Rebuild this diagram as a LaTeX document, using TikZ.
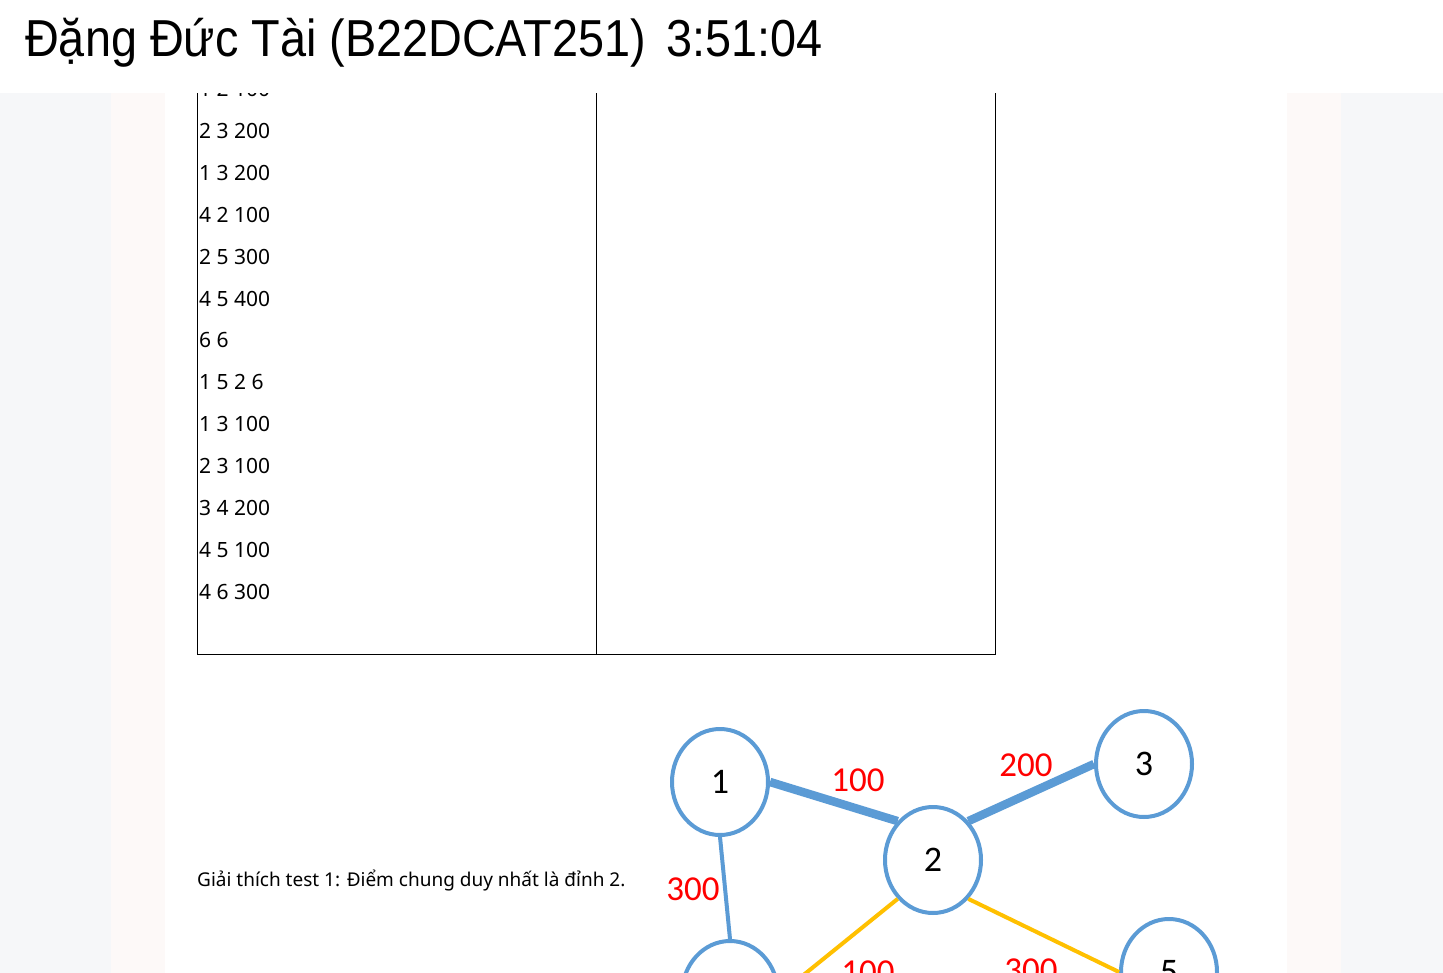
\documentclass[tikz,border=0pt]{standalone}
\usepackage{graphicx}
\usepackage{fontspec}
\setmainfont{Noto Sans}
\newfontfamily\headfont{Liberation Sans}
\newfontfamily\graphfont{Carlito}
\usetikzlibrary{shapes.geometric}
\definecolor{sidegray}{RGB}{246,247,249}
\definecolor{sidepink}{RGB}{253,249,248}
\definecolor{vertexblue}{RGB}{91,155,213}
\definecolor{edgeyellow}{RGB}{255,192,0}
\definecolor{weightred}{RGB}{255,0,0}

\begin{document}
\begin{tikzpicture}[
  x=1pt,y=-1pt,
  rowtext/.style={anchor=west,inner sep=0pt,font=\fontsize{21}{25}\selectfont},
  notetext/.style={anchor=west,inner sep=0pt,font=\fontsize{19}{23}\selectfont},
  vertex/.style={ellipse,draw=vertexblue,line width=4pt,fill=white,
    minimum width=96pt,minimum height=106pt,inner sep=0pt,
    font=\graphfont\fontsize{36}{40}\selectfont},
  weight/.style={inner sep=0pt,text=weightred,font=\graphfont\fontsize{35}{40}\selectfont},
  heavyedge/.style={draw=vertexblue,line width=8.5pt},
  lightedge/.style={draw=vertexblue,line width=4pt},
  treeedge/.style={draw=edgeyellow,line width=4pt}
]
\useasboundingbox (0,0) rectangle (1443,973);
\clip (0,0) rectangle (1443,973);

% Page background with the two side margins.
\fill[sidegray] (0,0) rectangle (1443,973);
\fill[sidepink] (111,93) rectangle (1341,973);
\fill[white] (165,93) rectangle (1287,973);

% Input table; its first rows are scrolled under the header.
\draw[line width=1pt] (197,60) -- (197,654) -- (995,654) -- (995,60);
\draw[line width=1pt] (596,60) -- (596,654);
\foreach \row [count=\i from 0] in {1 2 100,2 3 200,1 3 200,4 2 100,2 5 300,4 5 400,
    6 6,1 5 2 6,1 3 100,2 3 100,3 4 200,4 5 100,4 6 300}
  \node[rowtext] (row\i) at (199,89+41.9*\i) {\row};

\node[notetext] (note) at (197,880) {Giải thích test 1: Điểm chung duy nhất là đỉnh 2.};

% Graph of test 1.
\node[vertex] (v1) at (720,782) {1};
\node[vertex] (v2) at (933,860) {2};
\node[vertex] (v3) at (1144,764) {3};
\node[vertex] (v4) at (730,994) {};
\node[vertex] (v5) at (1169,972) {5};

\draw[heavyedge] (v1.east) -- (v2.north west);
\draw[heavyedge] (v2.north east) -- (v3.west);
\draw[lightedge] (v1.south) -- (v4.north);
\draw[treeedge] (v2.south west) -- (v4.east);
\draw[treeedge] (v2.south east) -- (v5.west);

\node[weight] (w12) at (858,780) {100};
\node[weight] (w23) at (1026,765) {200};
\node[weight] (w14) at (693,889) {300};
\node[weight] (w24) at (868,972) {100};
\node[weight] (w25) at (1031,970) {300};

% Header band on top of everything.
\fill[white] (0,0) rectangle (1443,93);
\node[anchor=base west,inner sep=0pt,font=\headfont\fontsize{52}{60}\selectfont] (title) at (25,57)
  {\scalebox{0.9}[1]{Đặng Đức Tài (B22DCAT251)\hspace{8pt} 3:51:04}};
\end{tikzpicture}
\end{document}
